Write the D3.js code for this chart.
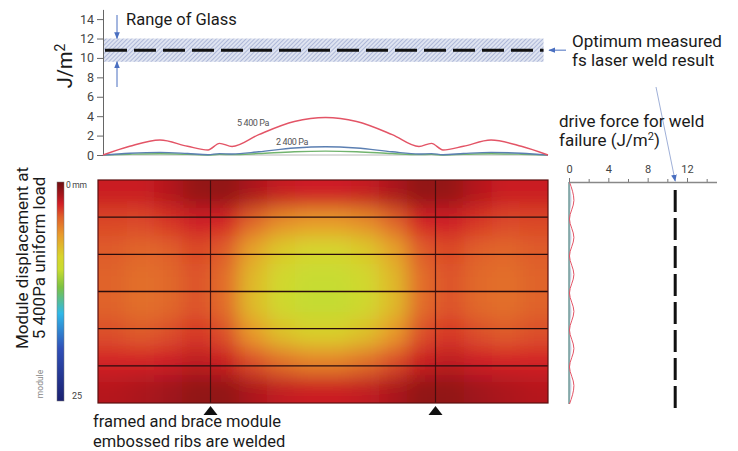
<!DOCTYPE html>
<html>
<head>
<meta charset="utf-8">
<script src="https://cdn.jsdelivr.net/npm/d3@7"></script>
<style>
  body { margin: 0; background: #fff; }
  text { font-family: Roboto, "Noto Sans", sans-serif; }
</style>
</head>
<body>
<svg id="chart" width="738" height="451"></svg>
<script>
// energy profile along the module length (fraction 0..1), J/m2
const profilePos = [0, 0.06, 0.128, 0.19, 0.236, 0.262, 0.29, 0.35, 0.43, 0.5, 0.57, 0.65, 0.71, 0.738, 0.764, 0.81, 0.872, 0.94, 1];
const load5400 = [0, 0.9, 1.54, 0.9, 0.52, 1.2, 0.88, 2.1, 3.45, 3.87, 3.45, 2.1, 0.88, 1.2, 0.52, 0.9, 1.54, 0.9, 0];
const load2400 = [0, 0.18, 0.27, 0.15, 0.03, 0.14, 0.1, 0.33, 0.72, 0.85, 0.72, 0.33, 0.1, 0.14, 0.03, 0.15, 0.27, 0.18, 0];
const loadLow = [0, 0.08, 0.13, 0.07, 0, 0.06, 0.04, 0.15, 0.34, 0.4, 0.34, 0.15, 0.04, 0.06, 0, 0.07, 0.13, 0.08, 0];

const glassRange = [9.6, 12.0];
const weldResult = 10.8;
const yTicks = [0, 2, 4, 6, 8, 10, 12, 14];

// energy profile across the module width (fraction 0..1)
const sidePos = [0, 0.083, 0.167, 0.25, 0.333, 0.417, 0.5, 0.583, 0.667, 0.75, 0.833, 0.917, 1];
const side5400 = [0.05, 0.5, 0.05, 0.5, 0.05, 0.5, 0.05, 0.5, 0.05, 0.5, 0.05, 0.5, 0.05];
const side2400 = [0.02, 0.25, 0.02, 0.25, 0.02, 0.25, 0.02, 0.25, 0.02, 0.25, 0.02, 0.25, 0.02];
const sideTicks = [0, 4, 8, 12];
const sideMinor = [2, 6, 10, 14];

// displacement field, mm (8 rows top->bottom, 16 columns left->right)
const displacement = [
  [2.3, 2.3, 1.8, 1.0, 0.9, 1.6, 2.2, 2.4, 2.4, 2.2, 1.6, 0.9, 1.0, 1.8, 2.3, 2.3],
  [3.4, 3.5, 3.0, 2.4, 2.6, 4.2, 5.5, 6.0, 6.0, 5.5, 4.2, 2.6, 2.4, 3.0, 3.5, 3.4],
  [3.9, 4.2, 4.0, 3.4, 3.9, 6.4, 8.0, 8.7, 8.7, 8.0, 6.4, 3.9, 3.4, 4.0, 4.2, 3.9],
  [4.1, 4.5, 4.3, 3.7, 4.4, 7.3, 9.2, 10.0, 10.0, 9.2, 7.3, 4.4, 3.7, 4.3, 4.5, 4.1],
  [4.1, 4.5, 4.3, 3.7, 4.4, 7.4, 9.3, 10.1, 10.1, 9.3, 7.4, 4.4, 3.7, 4.3, 4.5, 4.1],
  [3.6, 3.9, 3.6, 3.0, 3.6, 6.0, 7.6, 8.3, 8.3, 7.6, 6.0, 3.6, 3.0, 3.6, 3.9, 3.6],
  [2.6, 2.6, 2.4, 2.0, 2.3, 3.6, 4.6, 5.2, 5.2, 4.6, 3.6, 2.3, 2.0, 2.4, 2.6, 2.6],
  [1.8, 1.6, 1.3, 0.9, 0.9, 1.6, 2.1, 2.3, 2.3, 2.1, 1.6, 0.9, 0.9, 1.3, 1.6, 1.8]
];
const ribs = [1, 2, 3, 4, 5];          // rib lines between the 6 rows (in sixths)
const braces = [0.25, 0.75];           // welded brace positions
const colorStops = [0, 1.5, 2.5, 4, 6, 8.5, 10, 12, 15, 19, 25];
const colorRange = ["#6e0f12", "#a8161c", "#d21f26", "#e0602a", "#e89a2c", "#d8d42c", "#c8dc30", "#7cc242", "#30b8e8", "#3050b8", "#1a2070"];

const svg = d3.select("#chart");
const defs = svg.append("defs");
const ink = "#1a1a1a";
const arrowBlue = "#4a6fc0";

defs.append("marker").attr("id", "ah")
    .attr("viewBox", "0 0 10 10").attr("refX", 9).attr("refY", 5)
    .attr("markerWidth", 7).attr("markerHeight", 7).attr("orient", "auto-start-reverse")
    .attr("markerUnits", "userSpaceOnUse")
  .append("path").attr("d", "M0,1 L10,5 L0,9 Z").attr("fill", arrowBlue);

const hatch = defs.append("pattern").attr("id", "hatch")
    .attr("patternUnits", "userSpaceOnUse").attr("width", 3).attr("height", 3)
    .attr("patternTransform", "rotate(45)");
hatch.append("rect").attr("width", 3).attr("height", 3).attr("fill", "#dfe4f1");
hatch.append("line").attr("x1", 0).attr("y1", 0).attr("x2", 0).attr("y2", 3)
    .attr("stroke", "#8d9bc8").attr("stroke-width", 1.2);

// ---------- top chart ----------
const x = d3.scaleLinear().domain([0, 1]).range([103, 548]);
const y = d3.scaleLinear().domain([0, 15]).range([155, 9.4]);

svg.append("rect")
    .attr("x", x(0)).attr("width", x(0.99) - x(0))
    .attr("y", y(glassRange[1])).attr("height", y(glassRange[0]) - y(glassRange[1]))
    .attr("fill", "url(#hatch)");

svg.append("line")
    .attr("x1", x(0) + 2).attr("x2", x(0.99)).attr("y1", y(weldResult)).attr("y2", y(weldResult))
    .attr("stroke", "#111").attr("stroke-width", 3).attr("stroke-dasharray", "22,7");

svg.append("g")
    .attr("transform", `translate(${x(0)},0)`)
    .call(d3.axisLeft(y).tickValues(yTicks).tickSize(6).tickSizeOuter(0).tickPadding(3))
    .call(g => g.select(".domain").attr("stroke", "#666"))
    .call(g => g.selectAll(".tick line").attr("stroke", "#666"))
    .call(g => g.selectAll(".tick text").attr("fill", "#444").attr("font-size", 12.5)
        .attr("font-family", "Roboto, sans-serif"));

svg.append("line").attr("x1", x(0)).attr("x2", x(1)).attr("y1", y(0)).attr("y2", y(0))
    .attr("stroke", "#b9b9b9").attr("stroke-width", 1);

const line = d3.line().x((d, i) => x(profilePos[i])).y(d => y(d)).curve(d3.curveMonotoneX);
[[loadLow, "#72b46e"], [load2400, "#5b7fb2"], [load5400, "#e35466"]].forEach(([s, c]) => {
  svg.append("path").datum(s).attr("d", line)
      .attr("fill", "none").attr("stroke", c).attr("stroke-width", 1.4);
});

svg.append("text").attr("x", 253).attr("y", 126).attr("text-anchor", "middle")
    .attr("font-size", 9).attr("letter-spacing", -0.4).attr("fill", "#555").text("5 400 Pa");
svg.append("text").attr("x", 292).attr("y", 145).attr("text-anchor", "middle")
    .attr("font-size", 9).attr("letter-spacing", -0.4).attr("fill", "#555").text("2 400 Pa");

svg.append("text")
    .attr("transform", "translate(72,66) rotate(-90)")
    .attr("text-anchor", "middle").attr("font-size", 20).attr("fill", ink)
    .html("J/m<tspan dy='-7' font-size='14'>2</tspan>");

// range of glass arrows
svg.append("line").attr("x1", 117).attr("x2", 117).attr("y1", 15).attr("y2", y(glassRange[1]))
    .attr("stroke", arrowBlue).attr("stroke-width", 1).attr("marker-end", "url(#ah)");
svg.append("line").attr("x1", 117).attr("x2", 117).attr("y1", 87).attr("y2", y(glassRange[0]))
    .attr("stroke", arrowBlue).attr("stroke-width", 1).attr("marker-end", "url(#ah)");
svg.append("text").attr("x", 126).attr("y", 25).attr("font-size", 16.5).attr("fill", ink).text("Range of Glass");

svg.append("line").attr("x1", 566).attr("x2", 549).attr("y1", y(weldResult)).attr("y2", y(weldResult))
    .attr("stroke", arrowBlue).attr("stroke-width", 1).attr("marker-end", "url(#ah)");
svg.append("text").attr("x", 572).attr("y", 47).attr("font-size", 17).attr("fill", ink).text("Optimum measured");
svg.append("text").attr("x", 572).attr("y", 66).attr("font-size", 17).attr("fill", ink).text("fs laser weld result");

// ---------- heat map ----------
const hx = d3.scaleLinear().domain([0, 16]).range([98, 548]);
const hy = d3.scaleLinear().domain([0, 8]).range([180, 403]);
const color = d3.scaleLinear().domain(colorStops).range(colorRange);

defs.append("clipPath").attr("id", "mapclip")
  .append("rect").attr("x", hx(0)).attr("y", hy(0)).attr("width", hx(16) - hx(0)).attr("height", hy(8) - hy(0));
defs.append("filter").attr("id", "smooth").attr("filterUnits", "userSpaceOnUse")
    .attr("x", 40).attr("y", 130).attr("width", 570).attr("height", 330)
  .append("feGaussianBlur").attr("stdDeviation", 10);

const cells = [];
displacement.forEach((row, r) => row.forEach((v, c) => cells.push({r, c, v})));
const pad = 30;
svg.append("g").attr("clip-path", "url(#mapclip)")
  .append("g").attr("filter", "url(#smooth)")
  .selectAll("rect").data(cells).join("rect")
    .attr("x", d => hx(d.c) - (d.c === 0 ? pad : 0))
    .attr("y", d => hy(d.r) - (d.r === 0 ? pad : 0))
    .attr("width", d => hx(d.c + 1) - hx(d.c) + (d.c === 0 || d.c === 15 ? pad : 0) + 0.5)
    .attr("height", d => hy(d.r + 1) - hy(d.r) + (d.r === 0 || d.r === 7 ? pad : 0) + 0.5)
    .attr("fill", d => color(d.v));

const ry = d3.scaleLinear().domain([0, 6]).range([180, 403]);
const fx = d3.scaleLinear().domain([0, 1]).range([98, 548]);
svg.append("g").selectAll("line").data(ribs).join("line")
    .attr("x1", fx(0)).attr("x2", fx(1)).attr("y1", d => ry(d)).attr("y2", d => ry(d))
    .attr("stroke", "#2a0c0c").attr("stroke-width", 1.3);
svg.append("g").selectAll("line").data(braces).join("line")
    .attr("x1", d => fx(d)).attr("x2", d => fx(d)).attr("y1", ry(0)).attr("y2", ry(6))
    .attr("stroke", "#3a0c0c").attr("stroke-width", 1.2).attr("opacity", 0.85);
svg.append("rect").attr("x", fx(0)).attr("y", ry(0)).attr("width", fx(1) - fx(0)).attr("height", ry(6) - ry(0))
    .attr("fill", "none").attr("stroke", "#5a1010").attr("stroke-width", 1.2);

svg.append("g").selectAll("path").data(braces).join("path")
    .attr("d", d => `M${fx(d)},406 L${fx(d) + 7},415 L${fx(d) - 7},415 Z`)
    .attr("fill", "#111");

// colour bar
const cb = d3.scaleLinear().domain([0, 25]).range([182, 401]);
const grad = defs.append("linearGradient").attr("id", "cbar")
    .attr("x1", 0).attr("x2", 0).attr("y1", 0).attr("y2", 1);
grad.selectAll("stop").data(colorStops).join("stop")
    .attr("offset", d => d / 25).attr("stop-color", d => color(d));
svg.append("rect").attr("x", 57).attr("y", cb(0)).attr("width", 7).attr("height", cb(25) - cb(0))
    .attr("fill", "url(#cbar)").attr("stroke", "#777").attr("stroke-width", 0.5);
svg.append("text").attr("x", 66).attr("y", 188).attr("font-size", 8.5).attr("letter-spacing", -0.3)
    .attr("fill", "#444").text("0 mm");
svg.append("text").attr("x", 72).attr("y", 399).attr("font-size", 9).attr("fill", "#444").text("25");
svg.append("text").attr("transform", "translate(43,384) rotate(-90)").attr("text-anchor", "middle")
    .attr("font-size", 8.5).attr("fill", "#888").text("module");

svg.append("text").attr("transform", "translate(28,258) rotate(-90)").attr("text-anchor", "middle")
    .attr("font-size", 17).attr("fill", ink).text("Module displacement at");
svg.append("text").attr("transform", "translate(45,258) rotate(-90)").attr("text-anchor", "middle")
    .attr("font-size", 17).attr("fill", ink).text("5 400Pa uniform load");

svg.append("text").attr("x", 93).attr("y", 427).attr("font-size", 16.5).attr("fill", ink).text("framed and brace module");
svg.append("text").attr("x", 93).attr("y", 447).attr("font-size", 16.5).attr("fill", ink).text("embossed ribs are welded");

// ---------- side chart ----------
const sx = d3.scaleLinear().domain([0, 15]).range([569, 716.5]);
const sy = d3.scaleLinear().domain([0, 1]).range([182, 404]);

const sideArea = d3.area().y((d, i) => sy(sidePos[i])).x0(sx(0)).x1(d => sx(d)).curve(d3.curveMonotoneY);
svg.append("path").datum(side2400).attr("d", sideArea).attr("fill", "#b7c6d6").attr("opacity", 0.8);
svg.append("line").attr("x1", sx(0)).attr("x2", sx(0)).attr("y1", sy(0)).attr("y2", sy(1))
    .attr("stroke", "#6f9a98").attr("stroke-width", 1.5);
const sideLine = d3.line().y((d, i) => sy(sidePos[i])).x(d => sx(d)).curve(d3.curveMonotoneY);
svg.append("path").datum(side5400).attr("d", sideLine)
    .attr("fill", "none").attr("stroke", "#e35466").attr("stroke-width", 1);

svg.append("g").attr("transform", `translate(0,${sy(0)})`)
    .call(d3.axisTop(sx).tickValues(sideMinor).tickSize(3).tickFormat(""))
    .call(g => g.selectAll(".tick line").attr("stroke", "#777"))
    .call(g => g.select(".domain").remove());
svg.append("g").attr("transform", `translate(0,${sy(0)})`)
    .call(d3.axisTop(sx).tickValues(sideTicks).tickSize(4).tickSizeOuter(0).tickPadding(5))
    .call(g => g.select(".domain").attr("stroke", "#888").attr("stroke-width", 1.5))
    .call(g => g.selectAll(".tick line").attr("stroke", "#777"))
    .call(g => g.selectAll(".tick text").attr("fill", "#444").attr("font-size", 11)
        .attr("font-family", "Roboto, sans-serif"));

svg.append("line").attr("x1", sx(weldResult)).attr("x2", sx(weldResult)).attr("y1", 190).attr("y2", 408)
    .attr("stroke", "#111").attr("stroke-width", 3).attr("stroke-dasharray", "22,6");

svg.append("line").attr("x1", 656).attr("x2", sx(weldResult)).attr("y1", 87).attr("y2", sy(0) - 1)
    .attr("stroke", "#9fb0d8").attr("stroke-width", 1).attr("marker-end", "url(#ah)");

svg.append("text").attr("x", 559).attr("y", 127).attr("font-size", 17).attr("fill", ink).text("drive force for weld");
svg.append("text").attr("x", 559).attr("y", 146).attr("font-size", 17).attr("fill", ink)
    .html("failure (J/m<tspan dy='-6' font-size='11'>2</tspan><tspan dy='6'>)</tspan>");
</script>
</body>
</html>
